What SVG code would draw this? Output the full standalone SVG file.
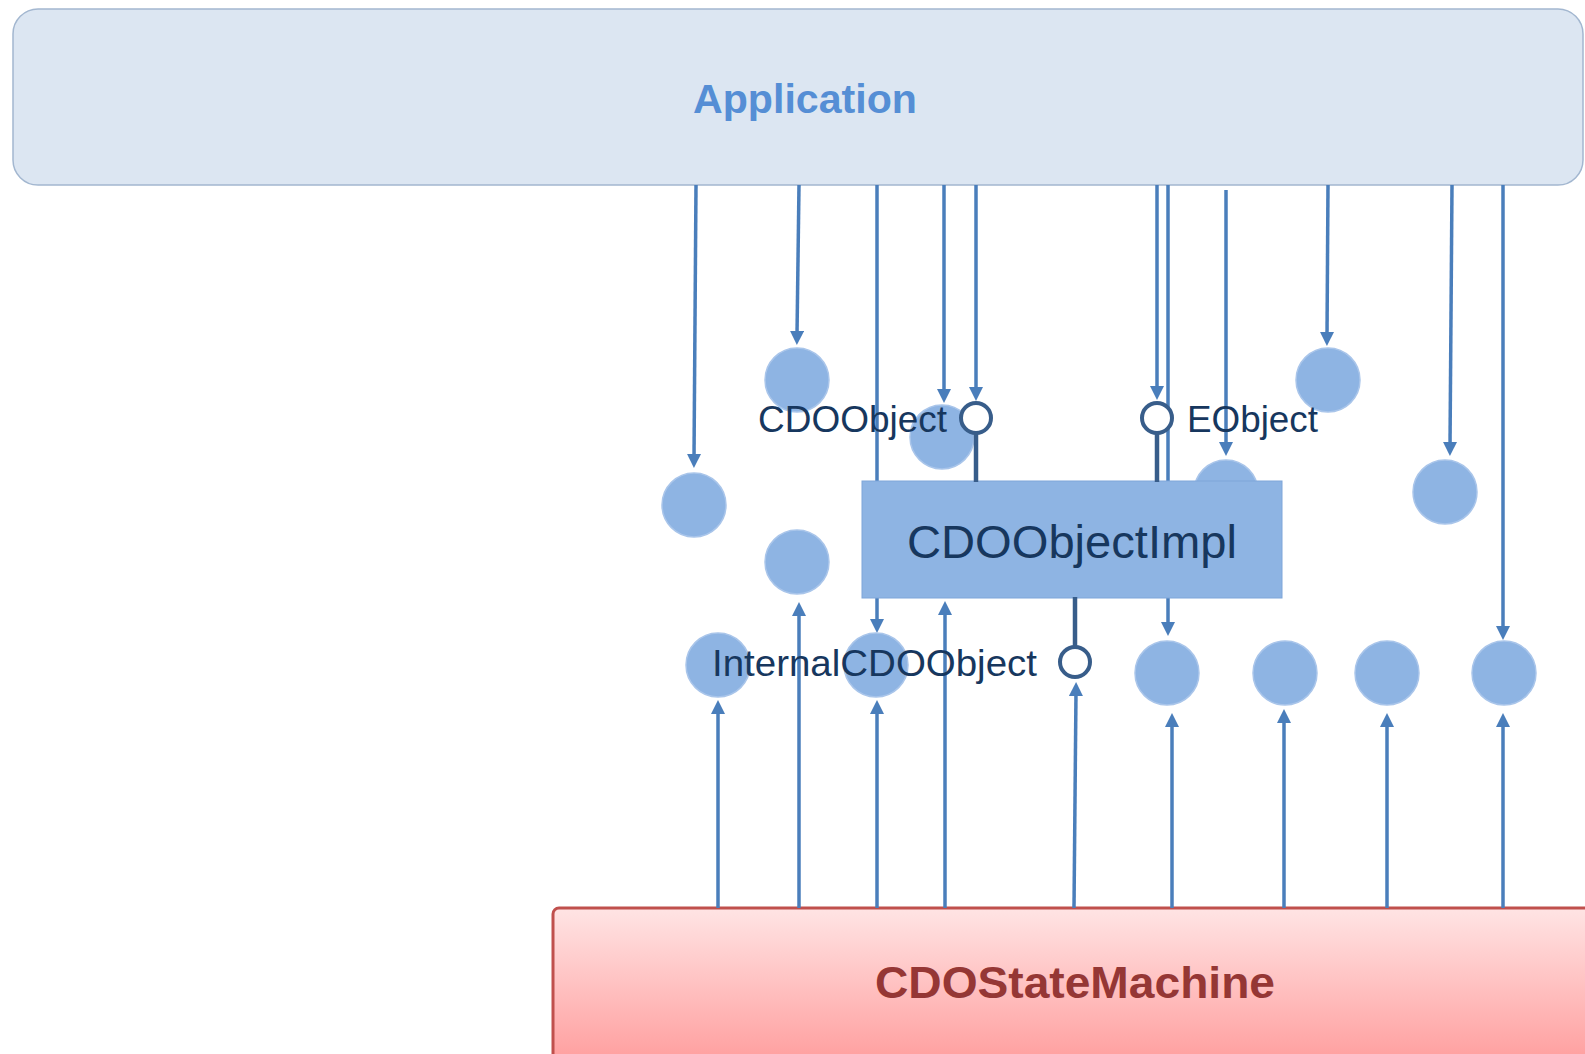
<svg xmlns="http://www.w3.org/2000/svg" width="1585" height="1054" viewBox="0 0 1585 1054">
<defs>
<style>
.conn{stroke:#4a7ebb;stroke-width:3.5;fill:none;marker-end:url(#arr)}
.stick{stroke:#385d8a;stroke-width:4.5;fill:none}
.ring{stroke:#385d8a;stroke-width:4;fill:#ffffff}
.dot{fill:#8eb4e3;stroke:#a9c5ea;stroke-width:1.5}
.lbl{font-family:"Liberation Sans",Arial,sans-serif;fill:#17375e}
.big{font-family:"Liberation Sans",Arial,sans-serif;font-weight:bold}
</style>
<marker id="arr" viewBox="0 0 14 14" refX="4" refY="7" markerWidth="14" markerHeight="14" markerUnits="userSpaceOnUse" orient="auto">
<path d="M0,0 L14,7 L0,14 z" fill="#4a7ebb"/>
</marker>
<linearGradient id="smg" gradientUnits="userSpaceOnUse" x1="0" y1="908" x2="0" y2="1054">
<stop offset="0" stop-color="#ffe4e4"/>
<stop offset="1" stop-color="#ffa2a2"/>
</linearGradient>
</defs>

<g id="application">
<rect x="13" y="9" width="1570" height="176" rx="25" ry="25" fill="#dce6f2" stroke="#a3b7d0" stroke-width="1.5"/>
<text class="big" x="693" y="113" font-size="41.5" fill="#558ed5" textLength="224" lengthAdjust="spacingAndGlyphs">Application</text>
</g>

<g id="cdostatemachine">
<rect x="553" y="908" width="1060" height="180" rx="6" ry="6" fill="url(#smg)" stroke="#c0504d" stroke-width="3"/>
<text class="big" x="875" y="998" font-size="44" fill="#953735" textLength="400" lengthAdjust="spacingAndGlyphs">CDOStateMachine</text>
</g>

<g id="connectors">
<path class="conn" d="M696,185 L694,458"/>
<path class="conn" d="M799,185 L797,335"/>
<path class="conn" d="M877,185 L877,623"/>
<path class="conn" d="M944,185 L944,393"/>
<path class="conn" d="M976,185 L976,391"/>
<path class="conn" d="M1157,185 L1157,390"/>
<path class="conn" d="M1168,185 L1168,626"/>
<path class="conn" d="M1226,190 L1226,446"/>
<path class="conn" d="M1328,185 L1327,336"/>
<path class="conn" d="M1452,185 L1450,446"/>
<path class="conn" d="M1503,185 L1503,630"/>
<path class="conn" d="M718,908 L718,710"/>
<path class="conn" d="M799,908 L799,612"/>
<path class="conn" d="M877,908 L877,710"/>
<path class="conn" d="M945,908 L945,611"/>
<path class="conn" d="M1074,908 L1076,692"/>
<path class="conn" d="M1172,908 L1172,723"/>
<path class="conn" d="M1284,908 L1284,719"/>
<path class="conn" d="M1387,908 L1387,723"/>
<path class="conn" d="M1503,908 L1503,723"/>
</g>

<g id="circle-c"><circle class="dot" cx="1226" cy="492" r="32"/></g>

<g id="cdoobjectimpl">
<rect x="862" y="481" width="420" height="117" fill="#8eb4e3" stroke="#7ea6d9" stroke-width="1"/>
<text class="lbl" x="907" y="558" font-size="47" textLength="330" lengthAdjust="spacingAndGlyphs">CDOObjectImpl</text>
</g>

<g id="circle-1"><circle class="dot" cx="694" cy="505" r="32"/></g>
<g id="circle-2"><circle class="dot" cx="797" cy="380" r="32"/></g>
<g id="circle-3"><circle class="dot" cx="942" cy="437" r="32"/></g>
<g id="circle-4"><circle class="dot" cx="797" cy="562" r="32"/></g>
<g id="circle-d"><circle class="dot" cx="1328" cy="380" r="32"/></g>
<g id="circle-e"><circle class="dot" cx="1445" cy="492" r="32"/></g>
<g id="circle-6"><circle class="dot" cx="718" cy="665" r="32"/></g>
<g id="circle-5"><circle class="dot" cx="876" cy="665" r="32"/></g>
<g id="circle-7"><circle class="dot" cx="1167" cy="673" r="32"/></g>
<g id="circle-8"><circle class="dot" cx="1285" cy="673" r="32"/></g>
<g id="circle-9"><circle class="dot" cx="1387" cy="673" r="32"/></g>
<g id="circle-10"><circle class="dot" cx="1504" cy="673" r="32"/></g>

<g id="iface-cdoobject">
<line class="stick" x1="976" y1="433" x2="976" y2="482"/>
<circle class="ring" cx="976" cy="418" r="15"/>
<text class="lbl" x="758" y="432" font-size="37" textLength="189" lengthAdjust="spacingAndGlyphs">CDOObject</text>
</g>

<g id="iface-eobject">
<line class="stick" x1="1157" y1="433" x2="1157" y2="482"/>
<circle class="ring" cx="1157" cy="418" r="15"/>
<text class="lbl" x="1187" y="432" font-size="37" textLength="131" lengthAdjust="spacingAndGlyphs">EObject</text>
</g>

<g id="iface-internalcdoobject">
<line class="stick" x1="1075" y1="597" x2="1075" y2="647"/>
<circle class="ring" cx="1075" cy="662" r="15"/>
<text class="lbl" x="712" y="676" font-size="37" textLength="325" lengthAdjust="spacingAndGlyphs">InternalCDOObject</text>
</g>
</svg>
